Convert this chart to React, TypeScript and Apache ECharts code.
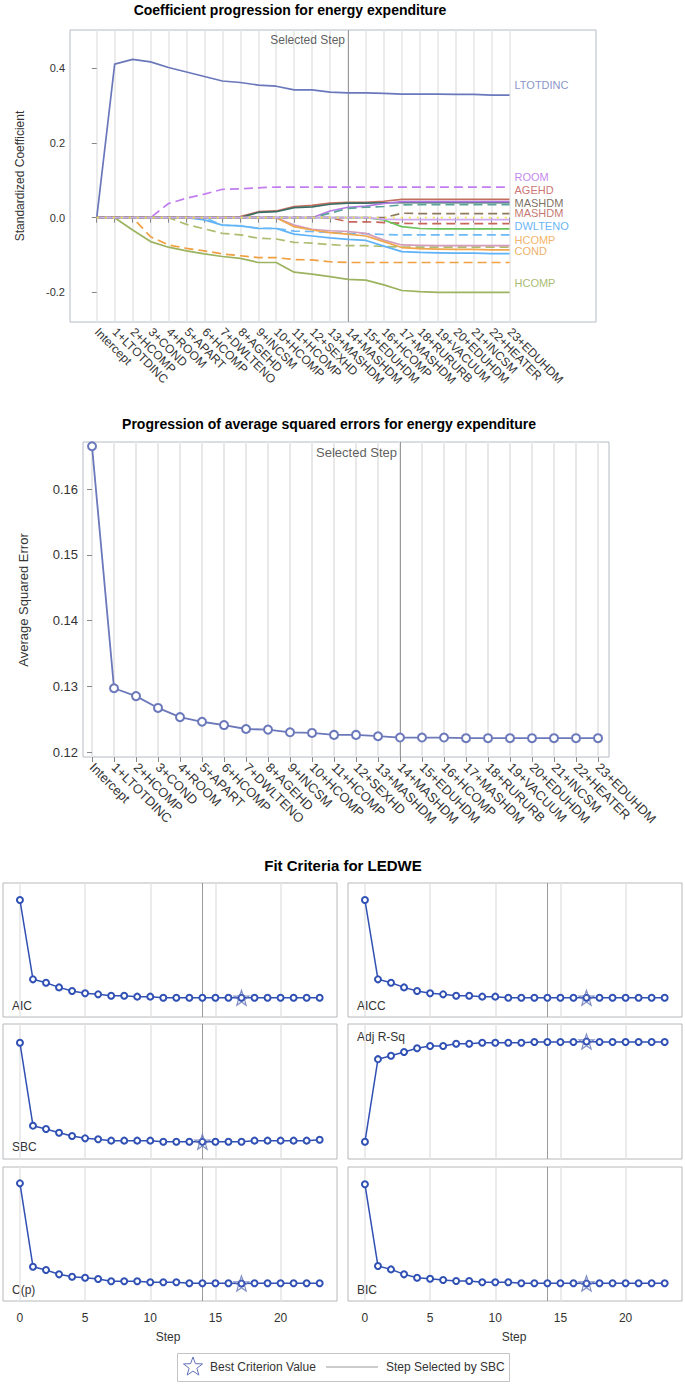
import React, { useEffect, useRef } from "react";
import * as echarts from "echarts";

// ---------- data ----------
const steps = [
  "Intercept", "1+LTOTDINC", "2+HCOMP", "3+COND", "4+ROOM", "5+APART", "6+HCOMP",
  "7+DWLTENO", "8+AGEHD", "9+INCSM", "10+HCOMP", "11+HCOMP", "12+SEXHD", "13+MASHDM",
  "14+MASHDM", "15+EDUHDM", "16+HCOMP", "17+MASHDM", "18+RURURB", "19+VACUUM",
  "20+EDUHDM", "21+INCSM", "22+HEATER", "23+EDUHDM",
];
const selectedStep = 14;

// standardized coefficients per step
const ltotdinc = [0, 0.411, 0.424, 0.417, 0.402, 0.390, 0.378, 0.366, 0.362, 0.355, 0.352, 0.342, 0.342, 0.336, 0.334, 0.334, 0.333, 0.331, 0.331, 0.331, 0.330, 0.330, 0.328, 0.328];
const hcompGreen = [0, 0, -0.033, -0.064, -0.079, -0.089, -0.097, -0.104, -0.109, -0.120, -0.120, -0.146, -0.151, -0.158, -0.165, -0.167, -0.180, -0.195, -0.198, -0.200, -0.200, -0.200, -0.200, -0.200];
const cond = [0, 0, 0, -0.051, -0.073, -0.082, -0.089, -0.097, -0.102, -0.107, -0.107, -0.112, -0.113, -0.118, -0.120, -0.120, -0.120, -0.120, -0.120, -0.120, -0.120, -0.120, -0.120, -0.120];
const room = [0, 0, 0, 0, 0.038, 0.052, 0.063, 0.076, 0.077, 0.080, 0.082, 0.082, 0.082, 0.082, 0.082, 0.082, 0.082, 0.082, 0.082, 0.082, 0.082, 0.082, 0.082, 0.082];
const apart = [0, 0, 0, 0, 0, -0.018, -0.030, -0.042, -0.046, -0.055, -0.057, -0.066, -0.068, -0.072, -0.075, -0.075, -0.077, -0.079, -0.079, -0.079, -0.079, -0.079, -0.079, -0.079];
const hcompBlue = [0, 0, 0, 0, 0, 0, -0.006, -0.020, -0.022, -0.029, -0.029, -0.044, -0.049, -0.054, -0.058, -0.061, -0.076, -0.091, -0.093, -0.094, -0.095, -0.095, -0.096, -0.096];
const dwlteno = [0, 0, 0, 0, 0, 0, 0, -0.020, -0.022, -0.028, -0.029, -0.036, -0.037, -0.040, -0.042, -0.043, -0.045, -0.046, -0.046, -0.046, -0.046, -0.046, -0.046, -0.046];
const agehd = [0, 0, 0, 0, 0, 0, 0, 0, 0.003, 0.016, 0.018, 0.030, 0.033, 0.039, 0.041, 0.041, 0.044, 0.049, 0.049, 0.049, 0.049, 0.049, 0.049, 0.049];
const incsm = [0, 0, 0, 0, 0, 0, 0, 0, 0, 0.014, 0.016, 0.027, 0.029, 0.036, 0.039, 0.039, 0.040, 0.040, 0.040, 0.040, 0.040, 0.040, 0.040, 0.040];
const hcompPink = [0, 0, 0, 0, 0, 0, 0, 0, 0, 0, 0, -0.020, -0.031, -0.035, -0.037, -0.042, -0.060, -0.073, -0.074, -0.075, -0.075, -0.075, -0.075, -0.075];
const hcompOrange = [0, 0, 0, 0, 0, 0, 0, 0, 0, 0, 0, -0.024, -0.033, -0.040, -0.044, -0.049, -0.064, -0.080, -0.083, -0.084, -0.085, -0.085, -0.086, -0.086];
const mashdmPurple = [0, 0, 0, 0, 0, 0, 0, 0, 0, 0, 0, 0, 0, 0.018, 0.028, 0.031, 0.038, 0.043, 0.043, 0.043, 0.043, 0.043, 0.043, 0.043];
const mashdmTeal = [0, 0, 0, 0, 0, 0, 0, 0, 0, 0, 0, 0, 0, 0.012, 0.025, 0.028, 0.030, 0.034, 0.035, 0.035, 0.035, 0.035, 0.035, 0.035];
const mashdmRed = [0, 0, 0, 0, 0, 0, 0, 0, 0, 0, 0, 0, 0, 0, -0.011, -0.011, -0.013, -0.015, -0.016, -0.016, -0.016, -0.016, -0.016, -0.016];
const mashdmBrown = [0, 0, 0, 0, 0, 0, 0, 0, 0, 0, 0, 0, 0, 0, 0, 0, 0, 0.012, 0.011, 0.011, 0.011, 0.011, 0.011, 0.011];
const eduhdmGreen = [0, 0, 0, 0, 0, 0, 0, 0, 0, 0, 0, 0, 0, 0, 0, 0, -0.006, -0.024, -0.029, -0.030, -0.030, -0.030, -0.030, -0.030];
const rururbLavender = [0, 0, 0, 0, 0, 0, 0, 0, 0, 0, 0, 0, 0, 0, 0, 0, -0.004, -0.005, -0.005, -0.005, -0.005, -0.005, -0.005, -0.005];
const heaterYellow = [0, 0, 0, 0, 0, 0, 0, 0, 0, 0, 0, 0, 0, 0, 0, 0, 0, 0, 0, 0, 0, 0, 0, 0];

const coefNames = ["LTOTDINC", "HCOMP", "COND", "ROOM", "APART", "HCOMP", "DWLTENO", "AGEHD", "INCSM", "HCOMP", "HCOMP", "MASHDM", "MASHDM", "MASHDM", "MASHDM", "EDUHDM", "RURURB", "HEATER"];
const coefData = [ltotdinc, hcompGreen, cond, room, apart, hcompBlue, dwlteno, agehd, incsm, hcompPink, hcompOrange, mashdmPurple, mashdmTeal, mashdmRed, mashdmBrown, eduhdmGreen, rururbLavender, heaterYellow];

// end-of-line labels (value where each label sits)
const endLabelTexts = ["LTOTDINC", "ROOM", "AGEHD", "MASHDM", "MASHDM", "DWLTENO", "HCOMP", "COND", "HCOMP"];
const endLabelValues = [0.355, 0.109, 0.074, 0.039, 0.013, -0.022, -0.060, -0.089, -0.175];

const coefTicks = [-0.2, 0, 0.2, 0.4];

// average squared error per step
const ase = [0.1665, 0.1297, 0.1285, 0.1267, 0.1253, 0.1246, 0.1241, 0.1235, 0.1234, 0.1230, 0.1229, 0.1226, 0.1226, 0.1224, 0.1222, 0.1222, 0.1222, 0.1221, 0.1221, 0.1221, 0.1221, 0.1221, 0.1221, 0.1221];
const aseTicks = [0.12, 0.13, 0.14, 0.15, 0.16];

// fit criteria (AIC/AICC/SBC/C(p)/BIC in relative units, Adj R-Sq as R²)
const critNames = ["AIC", "AICC", "SBC", "Adj R-Sq", "C(p)", "BIC"];
const aic = [87.3, 28.1, 25.6, 22.1, 19.4, 17.7, 16.9, 15.9, 15.9, 15.2, 15.2, 14.4, 14.4, 14.4, 14.4, 14.4, 14.4, 14.3, 14.4, 14.4, 14.4, 14.4, 14.4, 14.4];
const aicc = [87.3, 28.1, 25.6, 22.1, 19.4, 17.7, 16.9, 15.9, 15.9, 15.2, 15.2, 14.4, 14.4, 14.4, 14.4, 14.4, 14.4, 14.3, 14.4, 14.4, 14.4, 14.4, 14.4, 14.4];
const sbc = [86.1, 24.7, 22.2, 19.5, 17.0, 15.3, 14.6, 13.6, 13.6, 13.6, 13.6, 12.8, 12.8, 12.8, 12.7, 12.8, 12.8, 12.8, 13.6, 13.6, 13.6, 13.6, 13.6, 14.3];
const adjRsq = [0, 0.221, 0.230, 0.240, 0.250, 0.256, 0.256, 0.262, 0.262, 0.265, 0.265, 0.265, 0.265, 0.267, 0.267, 0.267, 0.267, 0.268, 0.267, 0.267, 0.267, 0.267, 0.267, 0.267];
const cp = [87.8, 25.6, 23.1, 19.9, 18.1, 17.4, 16.4, 14.7, 14.7, 14.7, 14.0, 14.0, 14.0, 13.2, 13.2, 13.2, 13.2, 13.1, 13.2, 13.2, 13.2, 13.2, 13.2, 13.2];
const bic = [87.1, 26.1, 23.6, 19.9, 17.4, 16.6, 15.7, 14.9, 14.9, 14.0, 14.0, 14.0, 13.2, 13.2, 13.2, 13.2, 13.2, 13.1, 13.2, 13.2, 13.2, 13.2, 13.2, 13.2];
const critData = [aic, aicc, sbc, adjRsq, cp, bic];
const bestStep = [17, 17, 14, 17, 17, 17];
const stepTicks = [0, 5, 10, 15, 20];

// ---------- styles ----------
const FONT = "'Liberation Sans', Arial, Helvetica, sans-serif";
const coefStyles = [
  { color: "#6a78bb", type: "solid" },
  { color: "#9cb35f", type: "solid" },
  { color: "#f0a040", type: [9, 5] },
  { color: "#c27ef0", type: [9, 5] },
  { color: "#adbd70", type: [9, 5] },
  { color: "#5eb2f7", type: "solid" },
  { color: "#6cb9f7", type: [9, 5] },
  { color: "#c2705e", type: "solid" },
  { color: "#3b6e66", type: "solid" },
  { color: "#d39cbb", type: "solid" },
  { color: "#f0a64c", type: "solid" },
  { color: "#b377e6", type: "solid" },
  { color: "#5aa29a", type: [9, 5] },
  { color: "#c8665e", type: [9, 5] },
  { color: "#8f7a5c", type: [9, 5] },
  { color: "#6cc25a", type: "solid" },
  { color: "#cfa8f5", type: "solid" },
  { color: "#f2e15a", type: [2, 6] },
];
const endLabelColors = ["#6a78bb", "#b36ae8", "#c0504d", "#5b4a35", "#b5544a", "#3ea0f0", "#f0a040", "#e89a3c", "#8fa84a"];

const starPath =
  "M0,-10 L2.41,-3.32 L9.51,-3.09 L3.9,1.27 L5.88,8.09 L0,4.1 L-5.88,8.09 L-3.9,1.27 L-9.51,-3.09 L-2.41,-3.32 Z";

const panelGrids = [
  { left: 3, top: 883, height: 134 },
  { left: 348, top: 883, height: 134 },
  { left: 3, top: 1024, height: 135 },
  { left: 348, top: 1024, height: 135 },
  { left: 3, top: 1167, height: 134 },
  { left: 348, top: 1167, height: 134 },
];
const panelYRange = [
  [0, 100], [0, 100], [0, 100], [-0.046, 0.315], [0, 100], [0, 100],
];
const panelLabelPos = [
  { x: 12, y: 1006 }, { x: 357, y: 1006 }, { x: 12, y: 1147 },
  { x: 357, y: 1037 }, { x: 12, y: 1290 }, { x: 357, y: 1290 },
];

function txt(text: string, x: number, y: number, size: number, opts: any = {}) {
  const align = opts.align || "center";
  return {
    type: "text",
    x,
    y,
    rotation: opts.rotation || 0,
    silent: true,
    style: {
      text,
      fill: opts.color || "#333",
      font: `${opts.bold ? "bold " : ""}${size}px ${FONT}`,
      textAlign: align,
      align,
      textVerticalAlign: "middle",
      verticalAlign: "middle",
    },
  };
}

export default function App() {
  const ref = useRef<HTMLDivElement>(null);
  useEffect(() => {
    document.body.style.margin = "0";
    echarts.graphic.registerShape("star5", echarts.graphic.extendPath(starPath, {}) as any);
    const chart = echarts.init(ref.current!, null, { renderer: "svg" });
    const stepIdx = steps.map((_, i) => i);

    const grids: any[] = [
      { left: 70, top: 30, width: 526, height: 292, show: true, borderColor: "#b4bac2", borderWidth: 1, backgroundColor: "#fff" },
      { left: 83, top: 442, width: 526, height: 315, show: true, borderColor: "#b4bac2", borderWidth: 1, backgroundColor: "#fff" },
      ...panelGrids.map((g) => ({ left: g.left, top: g.top, width: 334, height: g.height, show: true, borderColor: "#b4b8bc", borderWidth: 1, backgroundColor: "#fff" })),
    ];

    const xAxes: any[] = [
      {
        gridIndex: 0, type: "value", min: -1.49, max: 27.82,
        axisLine: { show: false },
        axisTick: { show: true, length: 5, customValues: stepIdx, lineStyle: { color: "#888" } },
        axisLabel: { customValues: stepIdx, formatter: (v: number) => steps[Math.round(v)], rotate: -45, fontSize: 12, color: "#333", margin: 8, fontFamily: FONT },
        splitLine: { show: true, lineStyle: { color: "#e6e6e6", width: 1.5 } },
      },
      {
        gridIndex: 1, type: "value", min: -0.41, max: 23.5,
        axisLine: { show: false },
        axisTick: { show: true, length: 5, customValues: stepIdx, lineStyle: { color: "#888" } },
        axisLabel: { customValues: stepIdx, formatter: (v: number) => steps[Math.round(v)], rotate: -45, fontSize: 13, color: "#333", margin: 8, fontFamily: FONT },
        splitLine: { show: true, lineStyle: { color: "#e8e8e8", width: 2 } },
      },
      ...panelGrids.map((_, k) => ({
        gridIndex: 2 + k, type: "value", min: -1.3, max: 24.33,
        axisLine: { show: false },
        axisTick: { show: false, customValues: stepTicks },
        axisLabel: { show: k >= 4, customValues: stepTicks, fontSize: 12, color: "#333", margin: 11, fontFamily: FONT },
        splitLine: { show: true, lineStyle: { color: "#e4e4e4", width: 1.5 } },
      })),
    ];

    const yAxes: any[] = [
      {
        gridIndex: 0, type: "value", min: -0.2793, max: 0.5025,
        axisLine: { show: false },
        axisTick: { show: true, length: 5, customValues: coefTicks, lineStyle: { color: "#888" } },
        axisLabel: { customValues: coefTicks, formatter: (v: number) => v.toFixed(1), fontSize: 11, color: "#333", margin: 5, fontFamily: FONT },
        splitLine: { show: false },
      },
      {
        gridIndex: 1, type: "value", min: 0.11924, max: 0.16715,
        axisLine: { show: false },
        axisTick: { show: true, length: 5, customValues: aseTicks, lineStyle: { color: "#888" } },
        axisLabel: { customValues: aseTicks, formatter: (v: number) => v.toFixed(2), fontSize: 13, color: "#333", margin: 5, fontFamily: FONT },
        splitLine: { show: false },
      },
      ...panelGrids.map((_, k) => ({
        gridIndex: 2 + k, type: "value", min: panelYRange[k][0], max: panelYRange[k][1], show: false,
      })),
    ];

    const selLine = (color: string) => ({
      silent: true, symbol: "none", label: { show: false }, z: 1,
      lineStyle: { color, width: 1, type: "solid" },
      data: [{ xAxis: selectedStep }],
    });

    const series: any[] = [];
    coefData.forEach((vals, i) => {
      series.push({
        type: "line", name: coefNames[i], xAxisIndex: 0, yAxisIndex: 0,
        data: vals.map((v, s) => [s, v]), symbol: "none", z: 3,
        lineStyle: { color: coefStyles[i].color, width: 1.7, type: coefStyles[i].type },
        ...(i === 0 ? { markLine: selLine("#999") } : {}),
      });
    });
    endLabelTexts.forEach((t, i) => {
      series.push({
        type: "scatter", xAxisIndex: 0, yAxisIndex: 0, symbolSize: 0, silent: true,
        data: [[steps.length - 1, endLabelValues[i]]],
        label: { show: true, position: "right", distance: 5, formatter: t, color: endLabelColors[i], fontSize: 11, fontFamily: FONT },
      });
    });
    series.push({
      type: "scatter", xAxisIndex: 0, yAxisIndex: 0, symbolSize: 0, silent: true,
      data: [[selectedStep, 0.476]],
      label: { show: true, position: "left", distance: 3, formatter: "Selected Step", color: "#333", fontSize: 12, fontFamily: FONT },
    });

    // ASE chart
    series.push({
      type: "line", name: "ASE", xAxisIndex: 1, yAxisIndex: 1,
      data: ase.map((v, s) => [s, v]), symbol: "emptyCircle", symbolSize: 8, z: 3,
      lineStyle: { color: "#6b78ba", width: 1.8 },
      itemStyle: { color: "#6b78ba", borderWidth: 1.5 },
      markLine: selLine("#999"),
    });
    series.push({
      type: "scatter", xAxisIndex: 1, yAxisIndex: 1, symbolSize: 0, silent: true,
      data: [[selectedStep, 0.16552]],
      label: { show: true, position: "left", distance: 3, formatter: "Selected Step", color: "#333", fontSize: 13, fontFamily: FONT },
    });

    // criteria panels
    critData.forEach((vals, k) => {
      series.push({
        type: "line", name: critNames[k], xAxisIndex: 2 + k, yAxisIndex: 2 + k,
        data: vals.map((v, s) => [s, v]), symbol: "emptyCircle", symbolSize: 6, z: 3,
        lineStyle: { color: "#3050b4", width: 1.5 },
        itemStyle: { color: "#3050b4", borderWidth: 1.2 },
        markLine: selLine("#9a9a9a"),
      });
      series.push({
        type: "scatter", name: "Best Criterion Value", xAxisIndex: 2 + k, yAxisIndex: 2 + k, z: 4,
        data: [[bestStep[k], vals[bestStep[k]]]],
        symbol: "path://" + starPath, symbolSize: 15,
        itemStyle: { color: "rgba(255,255,255,0)", borderColor: "#6272b8", borderWidth: 1.2 },
      });
    });

    const graphic: any[] = [
      txt("Coefficient progression for energy expenditure", 290, 10, 14, { bold: true, color: "#000" }),
      txt("Standardized Coefficient", 20, 176, 12, { rotation: Math.PI / 2 }),
      txt("Progression of average squared errors for energy expenditure", 329, 424, 14, { bold: true, color: "#000" }),
      txt("Average Squared Error", 23, 600, 13, { rotation: Math.PI / 2 }),
      txt("Fit Criteria for LEDWE", 343, 865, 15, { bold: true, color: "#000" }),
      txt("Step", 168, 1337, 12),
      txt("Step", 514, 1337, 12),
      ...critNames.map((n, k) => txt(n, panelLabelPos[k].x, panelLabelPos[k].y, 12, { align: "left" })),
      { type: "rect", shape: { x: 177.5, y: 1353.5, width: 332, height: 28 }, style: { fill: "#fff", stroke: "#c4c4c4", lineWidth: 1 }, silent: true },
      { type: "star5", x: 193, y: 1367, scaleX: 1, scaleY: 1, silent: true, style: { fill: "none", stroke: "#6272b8", lineWidth: 1 } },
      txt("Best Criterion Value", 210, 1367, 12, { align: "left" }),
      { type: "line", shape: { x1: 326, y1: 1367, x2: 378, y2: 1367 }, style: { stroke: "#999", lineWidth: 1 }, silent: true },
      txt("Step Selected by SBC", 386, 1367, 12, { align: "left" }),
    ];

    chart.setOption({
      animation: false,
      backgroundColor: "#fff",
      textStyle: { fontFamily: FONT },
      grid: grids,
      xAxis: xAxes,
      yAxis: yAxes,
      series,
      graphic,
    });
    return () => chart.dispose();
  }, []);
  return <div ref={ref} style={{ width: 685, height: 1384 }} />;
}
